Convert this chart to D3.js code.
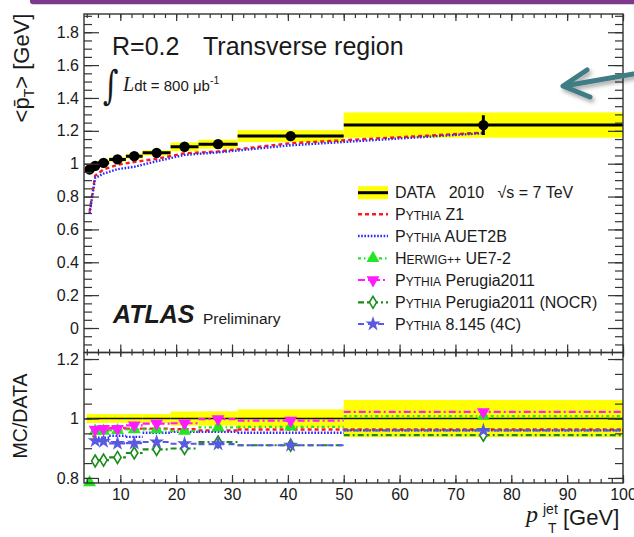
<!DOCTYPE html>
<html>
<head>
<meta charset="utf-8">
<script src="https://cdn.jsdelivr.net/npm/d3@7"></script>
<style>
  body { margin: 0; background: #fff; }
  svg text { font-family: "Liberation Sans", Arial, Helvetica, sans-serif; fill: #1a1a1a; white-space: pre; }
</style>
</head>
<body>
<svg id="chart" width="634" height="537"></svg>
<script>
// ---- data ---------------------------------------------------------------
// jet pT bins [GeV]
const binEdges   = [4, 5, 6, 8, 11, 14, 19, 24, 31, 50, 100];
const binCenters = [4.5, 5.5, 7, 9.5, 12.5, 16.5, 21.5, 27.5, 40.5, 75];

// mean pT of charged particles in the transverse region (data, 2010)
const dataMean = [0.965, 0.987, 1.005, 1.026, 1.046, 1.066, 1.103, 1.119, 1.168, 1.235];
const dataStat = [0.003, 0.003, 0.003, 0.003, 0.004, 0.005, 0.006, 0.008, 0.012, 0.060];
const dataSyst = [0.015, 0.015, 0.015, 0.015, 0.016, 0.016, 0.026, 0.027, 0.036, 0.077];

// MC / DATA ratios per bin
const ratioZ1       = [0.733, 0.940, 0.960, 0.968, 0.966, 0.966, 0.964, 0.960, 0.963, 0.963];
const ratioAUET2B   = [0.722, 0.925, 0.935, 0.942, 0.938, 0.952, 0.955, 0.955, 0.952, 0.960];
const ratioHerwig   = [0.785, 0.958, 0.958, 0.960, 0.963, 0.963, 0.958, 0.970, 0.972, 1.008];
const ratioPerugia  = [0.760, 0.963, 0.966, 0.966, 0.977, 0.983, 0.984, 0.998, 0.993, 1.022];
const ratioNOCR     = [0.700, 0.857, 0.860, 0.869, 0.884, 0.896, 0.899, 0.921, 0.910, 0.944];
const ratio4C       = [0.720, 0.925, 0.923, 0.916, 0.917, 0.921, 0.915, 0.914, 0.910, 0.960];

// axis ticks
const xTickValues   = [10, 20, 30, 40, 50, 60, 70, 80, 90, 100];
const xTickLabels   = ["10", "20", "30", "40", "50", "60", "70", "80", "90", "100"];
const yTopTickValues = [0, 0.2, 0.4, 0.6, 0.8, 1, 1.2, 1.4, 1.6, 1.8];
const yTopTickLabels = ["0", "0.2", "0.4", "0.6", "0.8", "1", "1.2", "1.4", "1.6", "1.8"];
const yBotTickValues = [0.8, 1, 1.2];
const yBotTickLabels = ["0.8", "1", "1.2"];

const legendLabels = [
  "DATA\u00A0\u00A0 2010\u00A0\u00A0 \u221As = 7 TeV",
  "PYTHIA Z1",
  "PYTHIA AUET2B",
  "HERWIG++ UE7-2",
  "PYTHIA Perugia2011",
  "PYTHIA Perugia2011 (NOCR)",
  "PYTHIA 8.145 (4C)"
];

// ---- layout -------------------------------------------------------------
const svg = d3.select("#chart");
const X0 = 84, X1 = 623;
const TOP0 = 14, TOP1 = 352.5;
const BOT0 = 352.5, BOT1 = 483;

const x    = d3.scaleLinear().domain([3.5, 100]).range([X0, X1]);
const yTop = d3.scaleLinear().domain([-0.149, 1.911]).range([TOP1, TOP0]);
const yBot = d3.scaleLinear().domain([0.783, 1.222]).range([BOT1, BOT0]);

const bins = binCenters.map((c, i) => ({
  i, c, lo: binEdges[i], hi: binEdges[i + 1],
  v: dataMean[i], stat: dataStat[i], syst: dataSyst[i]
}));

const styles = {
  z1:      { color: "#ff1a1a", dash: "4,3",         width: 2.4, marker: null },
  auet2b:  { color: "#2a2aff", dash: "1.6,1.6",     width: 2.4, marker: null },
  herwig:  { color: "#22e622", dash: "3,3,1.5,3",   width: 2.2, marker: "up" },
  perugia: { color: "#ff1aff", dash: "7,3,2,3",     width: 2.2, marker: "down" },
  nocr:    { color: "#198c19", dash: "6,3,2,3",     width: 2.2, marker: "diamond" },
  c4:      { color: "#5a5ae0", dash: "6,4",         width: 2.2, marker: "star" }
};

const mcSeries = [
  { key: "z1",      ratio: ratioZ1 },
  { key: "auet2b",  ratio: ratioAUET2B },
  { key: "nocr",    ratio: ratioNOCR },
  { key: "c4",      ratio: ratio4C },
  { key: "herwig",  ratio: ratioHerwig },
  { key: "perugia", ratio: ratioPerugia }
];

function markerPath(kind) {
  if (kind === "up")      return d3.symbol(d3.symbolTriangle, 72)();
  if (kind === "down")    return d3.symbol(d3.symbolTriangle, 72)();
  if (kind === "star")    return d3.symbol(d3.symbolStar, 70)();
  if (kind === "diamond") return "M0,-6L3.6,0L0,6L-3.6,0Z";
  return null;
}
function drawMarker(g, kind, color, cx, cy) {
  const p = g.append("path").attr("d", markerPath(kind))
    .attr("transform", `translate(${cx},${cy})` + (kind === "down" ? " rotate(180)" : ""));
  if (kind === "diamond") p.attr("fill", "#fff").attr("stroke", color).attr("stroke-width", 1.6);
  else p.attr("fill", color);
}

// ---- header bar ---------------------------------------------------------
svg.append("rect").attr("x", 30).attr("y", -3).attr("width", 620).attr("height", 7.3)
  .attr("rx", 3).attr("fill", "#7d3a8c");

// ---- top panel ----------------------------------------------------------
svg.append("clipPath").attr("id", "clipTop").append("rect")
  .attr("x", X0).attr("y", TOP0).attr("width", X1 - X0).attr("height", TOP1 - TOP0);
svg.append("clipPath").attr("id", "clipBot").append("rect")
  .attr("x", X0).attr("y", BOT0).attr("width", X1 - X0).attr("height", BOT1 - BOT0);

const topG = svg.append("g").attr("clip-path", "url(#clipTop)");

topG.selectAll("rect.syst").data(bins).join("rect").attr("class", "syst")
  .attr("x", d => x(d.lo)).attr("width", d => x(d.hi) - x(d.lo))
  .attr("y", d => yTop(d.v + d.syst)).attr("height", d => yTop(d.v - d.syst) - yTop(d.v + d.syst))
  .attr("fill", "#ffff00");

["z1", "auet2b"].forEach(k => {
  const s = styles[k];
  const r = mcSeries.find(m => m.key === k).ratio;
  const line = d3.line().x(d => x(d.c)).y(d => yTop(d.v * r[d.i]));
  topG.append("path").datum(bins).attr("d", line)
    .attr("fill", "none").attr("stroke", s.color).attr("stroke-width", s.width)
    .attr("stroke-dasharray", s.dash);
});

topG.selectAll("line.hbar").data(bins).join("line").attr("class", "hbar")
  .attr("x1", d => x(d.lo)).attr("x2", d => x(d.hi))
  .attr("y1", d => yTop(d.v)).attr("y2", d => yTop(d.v))
  .attr("stroke", "#000").attr("stroke-width", 3);
topG.selectAll("line.vbar").data(bins).join("line").attr("class", "vbar")
  .attr("x1", d => x(d.c)).attr("x2", d => x(d.c))
  .attr("y1", d => yTop(d.v + d.stat)).attr("y2", d => yTop(d.v - d.stat))
  .attr("stroke", "#000").attr("stroke-width", 3);
topG.selectAll("circle.pt").data(bins).join("circle").attr("class", "pt")
  .attr("cx", d => x(d.c)).attr("cy", d => yTop(d.v)).attr("r", 5.2).attr("fill", "#000");

// ---- bottom panel -------------------------------------------------------
const botG = svg.append("g").attr("clip-path", "url(#clipBot)");
botG.selectAll("rect.rsyst").data(bins).join("rect").attr("class", "rsyst")
  .attr("x", d => x(d.lo)).attr("width", d => x(d.hi) - x(d.lo))
  .attr("y", d => yBot(1 + d.syst / d.v)).attr("height", d => yBot(1 - d.syst / d.v) - yBot(1 + d.syst / d.v))
  .attr("fill", "#ffff00");
botG.selectAll("line.one").data(bins).join("line").attr("class", "one")
  .attr("x1", d => x(d.lo)).attr("x2", d => x(d.hi))
  .attr("y1", yBot(1)).attr("y2", yBot(1))
  .attr("stroke", "#111").attr("stroke-width", 1.4);

const botMarks = svg.append("g");
mcSeries.forEach(m => {
  const s = styles[m.key];
  const pts = bins.filter(d => m.ratio[d.i] >= yBot.domain()[0] && m.ratio[d.i] <= yBot.domain()[1]);
  botG.selectAll(null).data(pts).join("line")
    .attr("x1", d => x(d.lo)).attr("x2", d => x(d.hi))
    .attr("y1", d => yBot(m.ratio[d.i])).attr("y2", d => yBot(m.ratio[d.i]))
    .attr("stroke", s.color).attr("stroke-width", s.width).attr("stroke-dasharray", s.dash);
  if (s.marker) pts.forEach(d => drawMarker(botMarks, s.marker, s.color, x(d.c), yBot(m.ratio[d.i])));
});

// ---- frames and axes ----------------------------------------------------
const frameColor = "#333";
function styleAxis(g) {
  g.select(".domain").remove();
  g.selectAll("line").attr("stroke", frameColor).attr("stroke-width", 1.2);
  g.selectAll("text").attr("font-family", "Liberation Sans, Arial, sans-serif")
    .attr("font-size", 16).attr("fill", "#1a1a1a");
}
const minor = (lo, hi, step) => d3.range(lo, hi + step / 2, step);

// top panel: y axes
svg.append("g").attr("transform", `translate(${X0},0)`)
  .call(d3.axisLeft(yTop).tickValues(yTopTickValues).tickSize(-15).tickPadding(5)
    .tickFormat((d, i) => yTopTickLabels[i])).call(styleAxis);
svg.append("g").attr("transform", `translate(${X0},0)`)
  .call(d3.axisLeft(yTop).tickValues(minor(-0.1, 1.9, 0.05)).tickSize(-8).tickFormat("")).call(styleAxis);
svg.append("g").attr("transform", `translate(${X1},0)`)
  .call(d3.axisRight(yTop).tickValues(yTopTickValues).tickSize(-15).tickFormat("")).call(styleAxis);
svg.append("g").attr("transform", `translate(${X1},0)`)
  .call(d3.axisRight(yTop).tickValues(minor(-0.1, 1.9, 0.05)).tickSize(-8).tickFormat("")).call(styleAxis);
// top panel: x axes (top edge and shared edge)
svg.append("g").attr("transform", `translate(0,${TOP0})`)
  .call(d3.axisTop(x).tickValues(xTickValues).tickSize(-7).tickFormat("")).call(styleAxis);
svg.append("g").attr("transform", `translate(0,${TOP0})`)
  .call(d3.axisTop(x).tickValues(minor(4, 100, 2)).tickSize(-4).tickFormat("")).call(styleAxis);
svg.append("g").attr("transform", `translate(0,${TOP1})`)
  .call(d3.axisBottom(x).tickValues(xTickValues).tickSize(-8).tickFormat("")).call(styleAxis);
svg.append("g").attr("transform", `translate(0,${TOP1})`)
  .call(d3.axisBottom(x).tickValues(minor(4, 100, 2)).tickSize(-3.5).tickFormat("")).call(styleAxis);

// bottom panel axes
svg.append("g").attr("transform", `translate(${X0},0)`)
  .call(d3.axisLeft(yBot).tickValues(yBotTickValues).tickSize(-15).tickPadding(5)
    .tickFormat((d, i) => yBotTickLabels[i])).call(styleAxis);
svg.append("g").attr("transform", `translate(${X0},0)`)
  .call(d3.axisLeft(yBot).tickValues(minor(0.8, 1.2, 0.05)).tickSize(-8).tickFormat("")).call(styleAxis);
svg.append("g").attr("transform", `translate(${X1},0)`)
  .call(d3.axisRight(yBot).tickValues(yBotTickValues).tickSize(-15).tickFormat("")).call(styleAxis);
svg.append("g").attr("transform", `translate(${X1},0)`)
  .call(d3.axisRight(yBot).tickValues(minor(0.8, 1.2, 0.05)).tickSize(-8).tickFormat("")).call(styleAxis);
svg.append("g").attr("transform", `translate(0,${BOT0})`)
  .call(d3.axisTop(x).tickValues(xTickValues).tickSize(-4.5).tickFormat("")).call(styleAxis);
svg.append("g").attr("transform", `translate(0,${BOT0})`)
  .call(d3.axisTop(x).tickValues(minor(4, 100, 2)).tickSize(-3).tickFormat("")).call(styleAxis);
svg.append("g").attr("transform", `translate(0,${BOT1})`)
  .call(d3.axisBottom(x).tickValues(xTickValues).tickSize(-8).tickPadding(6)
    .tickFormat((d, i) => xTickLabels[i])).call(styleAxis);
svg.append("g").attr("transform", `translate(0,${BOT1})`)
  .call(d3.axisBottom(x).tickValues(minor(4, 100, 2)).tickSize(-4).tickFormat("")).call(styleAxis);

svg.append("rect").attr("x", X0).attr("y", TOP0).attr("width", X1 - X0).attr("height", TOP1 - TOP0)
  .attr("fill", "none").attr("stroke", frameColor).attr("stroke-width", 1.4);
svg.append("rect").attr("x", X0).attr("y", BOT0).attr("width", X1 - X0).attr("height", BOT1 - BOT0)
  .attr("fill", "none").attr("stroke", frameColor).attr("stroke-width", 1.4);

// ---- titles and annotations ---------------------------------------------
svg.append("text").attr("x", 112).attr("y", 55).attr("font-size", 25).text("R=0.2");
svg.append("text").attr("x", 203).attr("y", 55).attr("font-size", 25).text("Transverse region");

svg.append("text").attr("x", 103).attr("y", 99).attr("font-size", 40)
  .style("font-family", "DejaVu Serif, serif").attr("transform", "translate(103,99) scale(0.75,1) translate(-103,-99)")
  .text("\u222B");
const lum = svg.append("text").attr("x", 123).attr("y", 91);
lum.append("tspan").attr("font-size", 20).style("font-family", "Liberation Serif, serif")
  .attr("font-style", "italic").text("L");
lum.append("tspan").attr("font-size", 15).text("dt = 800 \u03BCb");
lum.append("tspan").attr("font-size", 10.5).attr("dy", -7).text("-1");

svg.append("text").attr("x", 113).attr("y", 323).attr("font-size", 25)
  .attr("font-weight", "bold").attr("font-style", "italic").text("ATLAS");
svg.append("text").attr("x", 203).attr("y", 324).attr("font-size", 15.5).text("Preliminary");

const yTitle = svg.append("text").attr("transform", "translate(29,68) rotate(-90)")
  .attr("text-anchor", "middle").attr("font-size", 22);
yTitle.append("tspan").text("<p\u0304");
yTitle.append("tspan").attr("font-size", 14).attr("dy", 5).text("T");
yTitle.append("tspan").attr("dy", -5).text("> [GeV]");

svg.append("text").attr("transform", "translate(26.5,416) rotate(-90)")
  .attr("text-anchor", "middle").attr("font-size", 19.5).text("MC/DATA");

svg.append("text").attr("x", 526).attr("y", 522).attr("font-size", 24)
  .style("font-family", "Liberation Serif, serif").attr("font-style", "italic").text("p");
svg.append("text").attr("x", 543).attr("y", 514).attr("font-size", 14).text("jet");
svg.append("text").attr("x", 548).attr("y", 533).attr("font-size", 14).text("T");
svg.append("text").attr("x", 563).attr("y", 525).attr("font-size", 22).text("[GeV]");

// ---- legend -------------------------------------------------------------
const legRows = [192.7, 214.3, 236, 258.3, 280, 302.3, 324];
const legKeys = [null, "z1", "auet2b", "herwig", "perugia", "nocr", "c4"];
const leg = svg.append("g");
legKeys.forEach((k, i) => {
  const yy = legRows[i];
  if (k === null) {
    leg.append("rect").attr("x", 358).attr("y", yy - 6.5).attr("width", 30).attr("height", 13).attr("fill", "#ffff00");
    leg.append("line").attr("x1", 358).attr("x2", 388).attr("y1", yy).attr("y2", yy)
      .attr("stroke", "#000").attr("stroke-width", 3);
  } else {
    const s = styles[k];
    leg.append("line").attr("x1", 358).attr("x2", 388).attr("y1", yy).attr("y2", yy)
      .attr("stroke", s.color).attr("stroke-width", s.width).attr("stroke-dasharray", s.dash);
    if (s.marker) drawMarker(leg, s.marker, s.color, 373, yy);
  }
  // generator names are set in small capitals
  const t = leg.append("text").attr("x", 395).attr("y", yy + 5.5).attr("font-size", 16);
  legendLabels[i].split(/(PYTHIA|HERWIG\+\+)/).forEach(part => {
    if (part === "PYTHIA" || part === "HERWIG++") {
      t.append("tspan").text(part[0]);
      t.append("tspan").attr("font-size", 12).text(part.slice(1));
    } else if (part.length) {
      t.append("tspan").text(part);
    }
  });
});

// ---- callout arrow --------------------------------------------------------
const defs = svg.append("defs");
const f = defs.append("filter").attr("id", "shadow").attr("x", "-20%").attr("y", "-40%")
  .attr("width", "150%").attr("height", "200%");
f.append("feDropShadow").attr("dx", 2).attr("dy", 3).attr("stdDeviation", 2)
  .attr("flood-color", "#000").attr("flood-opacity", 0.35);
const arrow = svg.append("g").attr("filter", "url(#shadow)")
  .attr("fill", "none").attr("stroke", "#3f7c84").attr("stroke-width", 5)
  .attr("stroke-linecap", "round").attr("stroke-linejoin", "round");
arrow.append("path").attr("d", "M645,72L564,86");
arrow.append("path").attr("d", "M587,70L563,86L590,97");
</script>
</body>
</html>
